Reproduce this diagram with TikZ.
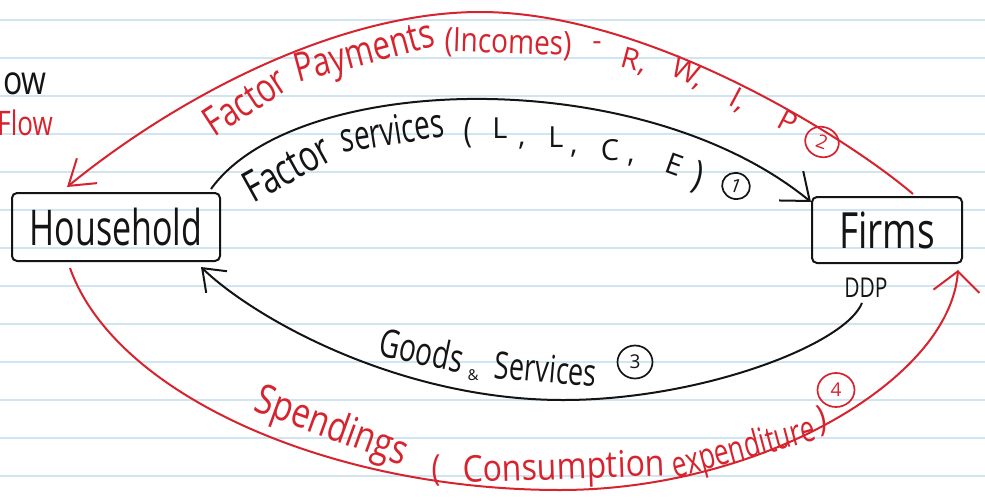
\documentclass[tikz,border=0pt]{standalone}
\usepackage{fontspec}
\setmainfont{Open Sans}
\usetikzlibrary{arrows.meta,calc,shapes.geometric}
\definecolor{pen}{RGB}{20,20,20}
\definecolor{redpen}{RGB}{215,35,45}
\definecolor{ruling}{RGB}{208,229,240}
% vertically stretched text, to get the tall letters of a pen hand
\newcommand\hw[2]{\scalebox{1}[#1]{#2}}
\newcommand\fs[1]{\fontsize{#1}{#1}\selectfont}

\begin{document}
\begin{tikzpicture}[x=1pt,y=-1pt,
  box/.style={draw=pen, line width=2pt, rounded corners=5pt, inner sep=0pt, text=pen},
  blk/.style={draw=pen, line width=2pt},
  rd/.style={draw=redpen, line width=2pt},
  btxt/.style={inner sep=0pt, text=pen},
  rtxt/.style={inner sep=0pt, text=redpen},
  num/.style={ellipse, draw, line width=1.7pt, inner sep=0pt, font=\fs{19}},
]
\useasboundingbox (0,0) rectangle (985,501);

% ruled paper
\foreach \k in {0,...,12}
  \draw[ruling, line width=1.2pt] (0,20+38*\k) -- (985,20+38*\k);

% margin words, cut at the page edge
\node[btxt, anchor=east, font=\fs{32}] (ow) at (47,84) {\hw{1.25}{ow}};
\node[rtxt, anchor=east, font=\fs{26}] (flow) at (53,123) {\hw{1.3}{Flow}};

% the two sectors
\node[box, minimum width=208pt, minimum height=68pt, font=\fs{34}] (hh) at (116,227) {\hw{1.45}{Household}};
\node[box, minimum width=150pt, minimum height=66pt, font=\fs{37}] (fi) at (887,230) {\hw{1.35}{Firms}};
\node[btxt, font=\fs{21}] (ddp) at (866,288) {\hw{1.3}{DDP}};

% waypoints of the outer loops
\coordinate (rtop) at (480,12);
\coordinate (btop) at (563,400);
\coordinate (rbot) at (560,490);

% (1) factor services: household -> firms
\draw[blk, -{Straight Barb[length=24pt,width=38pt]}]
  ($(hh.north east)+(-10,-3)$) .. controls (295,72) and (640,62) .. ($(fi.north west)+(0,6)$);

% (2) factor payments: firms -> household
\draw[rd, -{Straight Barb[length=24pt,width=32pt]}]
  ($(fi.north)+(26,-2)$) .. controls (850,140) and (650,12) .. (rtop)
  .. controls (340,12) and (180,95) .. ($(hh.north)+(-49,-5)$);

% (3) goods and services: firms -> household
\draw[blk, -{Straight Barb[length=20pt,width=30pt]}]
  ($(ddp.south)+(-4,5)$) .. controls (845,345) and (700,400) .. (btop)
  .. controls (400,400) and (255,319) .. ($(hh.south east)+(-20,5)$);

% (4) spendings: household -> firms
\draw[rd, -{Straight Barb[length=20pt,width=46pt]}]
  ($(hh.south)+(-46,6)$) .. controls (115,395) and (330,490) .. (rbot)
  .. controls (760,490) and (950,380) .. ($(fi.south east)+(-5,6)$);

% labels of (1)
\node[btxt, font=\fs{32}, rotate=29] (fs1) at (287,168) {\hw{1.35}{Factor}};
\node[btxt, font=\fs{28}, rotate=9] (fs2) at (392,130) {\hw{1.45}{services}};
\begin{scope}[every node/.style={btxt, font=\fs{29}}]
  \node (p1) at (468,133) {\hw{1.2}{(}};
  \node (l1) at (500,128) {L};
  \node (c1) at (522,146) {,};
  \node (l2) at (556,137) {L};
  \node (c2) at (574,154) {,};
  \node (cc) at (610,150) {C};
  \node (c3) at (631,163) {,};
  \node[rotate=-20] (ee) at (675,165) {E};
  \node[font=\fs{32}, rotate=-15] (p2) at (698,177) {\hw{1.2}{)}};
\end{scope}
\node[num, draw=pen, text=pen, minimum width=28pt, minimum height=26pt, rotate=-20] (n1) at (736,186) {1};

% labels of (2)
\node[rtxt, font=\fs{31}, rotate=33] (fp1) at (245,101) {\hw{1.3}{Factor}};
\node[rtxt, font=\fs{31}, rotate=15] (fp2) at (365,55) {\hw{1.3}{Payments}};
\node[rtxt, font=\fs{28}, rotate=-2] (fp3) at (508,44) {\hw{1.2}{(Incomes)}};
\begin{scope}[every node/.style={rtxt, font=\fs{29}}]
  \node (dash) at (597,46) {-};
  \node[rotate=-15] (rr) at (634,62) {R,};
  \node[rotate=-25] (ww) at (688,74) {W,};
  \node[rotate=-28] (ii) at (738,101) {I,};
  \node[rotate=-28] (pp) at (788,121) {P};
\end{scope}
\node[num, draw=redpen, text=redpen, minimum width=34pt, minimum height=30pt, rotate=-20] (n2) at (822,142) {2};

% labels of (3)
\node[btxt, font=\fs{28}, rotate=-12] (gs1) at (422,350) {\hw{1.4}{Goods}};
\node[btxt, font=\fs{15}] (amp) at (473,375) {\&};
\node[btxt, font=\fs{27}, rotate=-5] (gs2) at (546,369) {\hw{1.4}{Services}};
\node[num, draw=pen, text=pen, minimum width=35pt, minimum height=33pt] (n3) at (635,362) {3};

% labels of (4)
\node[rtxt, font=\fs{33}, rotate=-20] (sp1) at (331,428) {\hw{1.25}{Spendings}};
\node[rtxt, font=\fs{30}] (sp2) at (436,470) {\hw{1.2}{(}};
\node[rtxt, font=\fs{32}, rotate=2] (sp3) at (564,470) {\hw{1.15}{Consumption}};
\node[rtxt, font=\fs{26}, rotate=15] (sp4) at (744,450) {\hw{1.4}{expenditure}};
\node[rtxt, font=\fs{30}, rotate=10] (sp5) at (822,421) {\hw{1.2}{)}};
\node[num, draw=redpen, text=redpen, minimum width=37pt, minimum height=34pt] (n4) at (836,390) {4};
\end{tikzpicture}
\end{document}
